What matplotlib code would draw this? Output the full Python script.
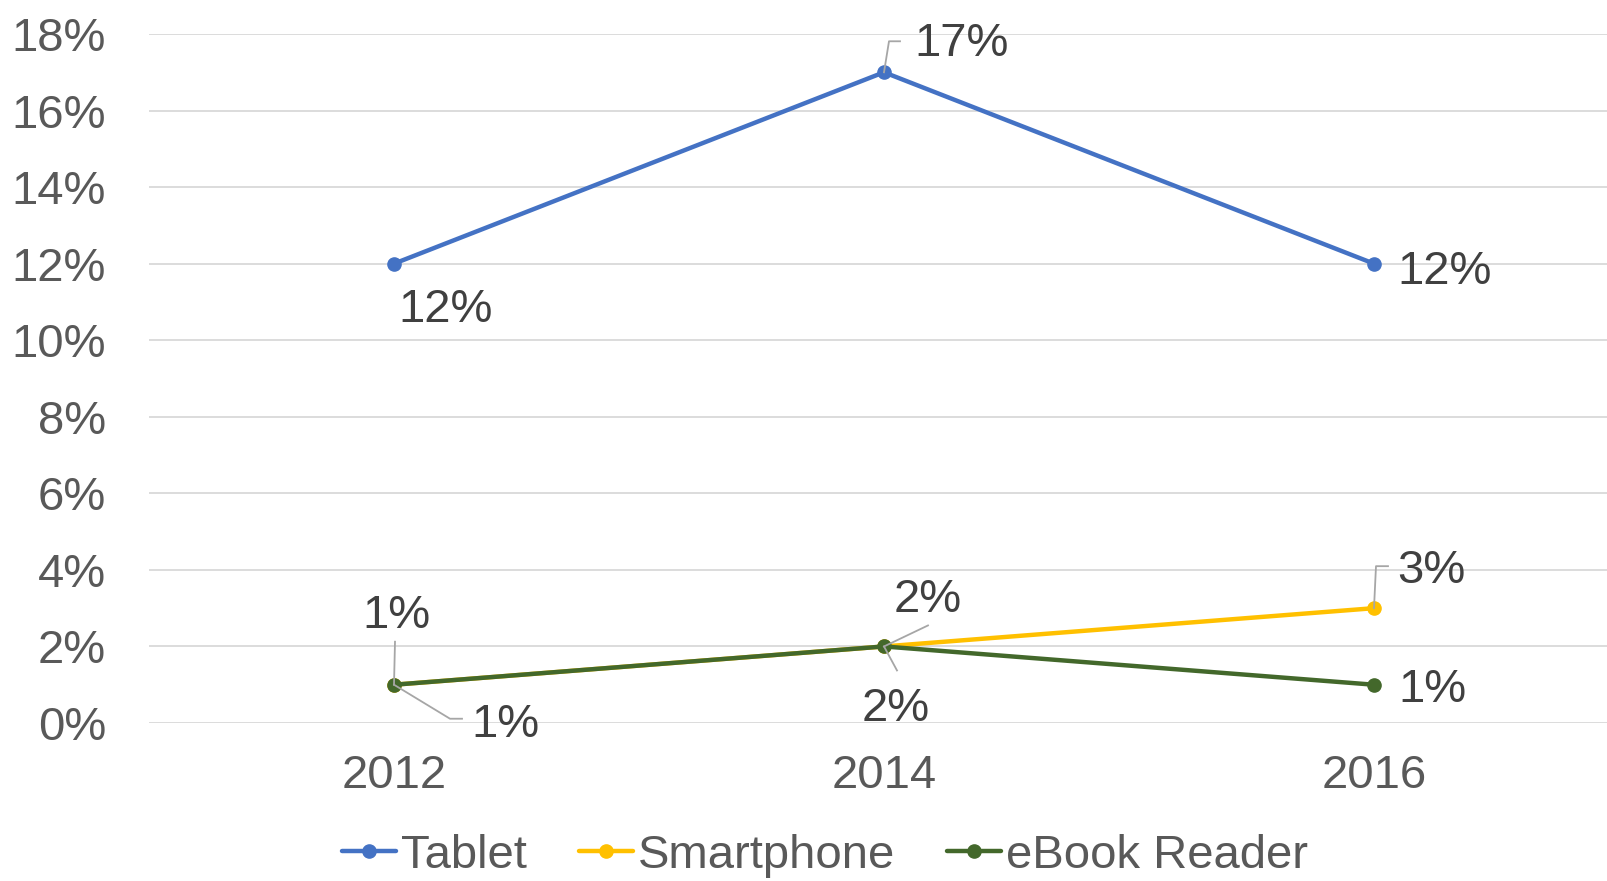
'''
device share chart, 2012-2016
'''

import matplotlib
matplotlib.use('Agg')
import matplotlib.pyplot as plt
from matplotlib.lines import Line2D
from matplotlib.ticker import FuncFormatter

years = ['2012', '2014', '2016']
tablet = [12, 17, 12]
smartphone = [1, 2, 3]
ebook_reader = [1, 2, 1]
series_names = ['Tablet', 'Smartphone', 'eBook Reader']
colors = ['#4472C4', '#FFC000', '#43682B']

plt.rcParams['font.family'] = ['Liberation Sans', 'DejaVu Sans']

fig = plt.figure(figsize=(16.08, 8.81), dpi=100)
# category axis runs a little past the right edge of the figure
ax = fig.add_axes([149 / 1608, 1 - 723 / 881, 1470 / 1608, (723 - 34) / 881])

x = list(range(len(years)))
for vals, name, col in zip([tablet, smartphone, ebook_reader], series_names, colors):
    ax.plot(x, vals, color=col, lw=3.2, marker='o', ms=9.5, label=name,
            solid_capstyle='round', clip_on=False)

ax.set_xlim(-0.5, 2.5)
ax.set_ylim(0, 18)
ax.set_yticks(range(0, 19, 2))
ax.yaxis.set_major_formatter(FuncFormatter(lambda v, p: '%d%%' % v))
ax.set_xticks(x)
ax.set_xticklabels(years)
ax.grid(axis='y', color='#D9D9D9', lw=1.3)
ax.set_axisbelow(True)
for s in ax.spines.values():
    s.set_visible(False)
ax.tick_params(axis='both', length=0, labelsize=34, labelcolor='#595959')
ax.tick_params(axis='y', pad=31)
ax.tick_params(axis='x', pad=22)


def label(xi, val, dx, dy):
    # dx, dy in image pixels (dy positive = down), baseline anchored
    ax.annotate('%d%%' % val, xy=(xi, val), xytext=(dx, -dy),
                textcoords='offset pixels', ha='center', va='baseline',
                fontsize=34, color='#404040')


def leader(xi, val, offs):
    x0, y0 = ax.transData.transform((xi, val))
    pts = [(x0 + dx, y0 - dy) for dx, dy in offs]
    fpts = fig.transFigure.inverted().transform(pts)
    fig.add_artist(Line2D(fpts[:, 0], fpts[:, 1], transform=fig.transFigure,
                          color='#A6A6A6', lw=1.3, zorder=1))


# tablet
label(0, tablet[0], 52, 58)
label(1, tablet[1], 78, -16)
leader(1, tablet[1], [(0, 0), (5, -31), (16, -31)])
label(2, tablet[2], 71, 20)

# smartphone
label(0, smartphone[0], 111, 52)
leader(0, smartphone[0], [(0, 0), (56, 34), (68, 34)])
label(1, smartphone[1], 44, -34)
leader(1, smartphone[1], [(0, 0), (44, -21)])
label(2, smartphone[2], 57, -25)
leader(2, smartphone[2], [(0, 0), (2, -42), (14, -42)])

# ebook reader
label(0, ebook_reader[0], 2, -57)
leader(0, ebook_reader[0], [(0, 0), (1, -43)])
label(1, ebook_reader[1], 12, 75)
leader(1, ebook_reader[1], [(0, 0), (13, 24)])
label(2, ebook_reader[2], 58, 17)

fig.legend(loc='center', bbox_to_anchor=(825 / 1608, 1 - 856 / 881), ncol=3,
           frameon=False, fontsize=34, labelcolor='#595959', handlelength=1.15,
           handletextpad=0.1, columnspacing=1.1, borderaxespad=0)

fig.savefig('out.png', dpi=100)
